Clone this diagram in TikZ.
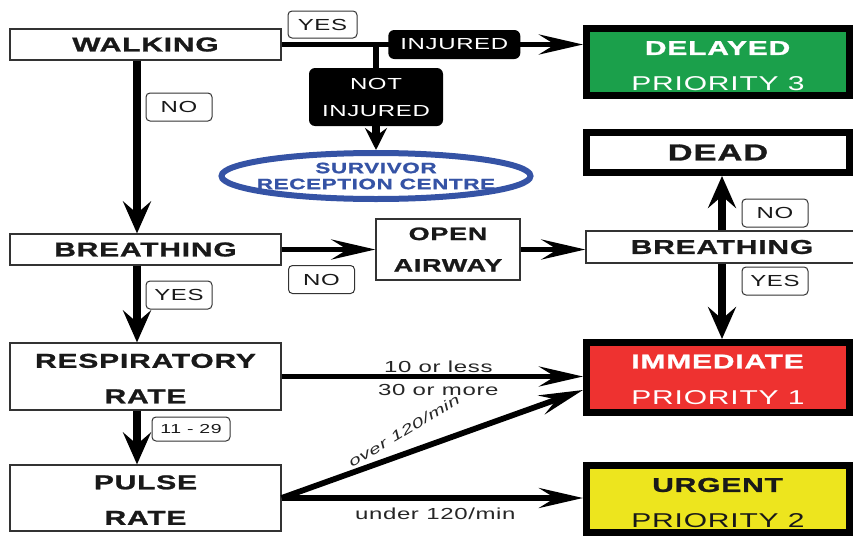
\documentclass[tikz,border=0pt]{standalone}
\usepackage{fontspec}
\setmainfont{Liberation Sans}[FakeStretch=1.5, LetterSpace=4, BoldFeatures={FakeBold=1.2}]
\usepackage{tikz}
\usetikzlibrary{shapes.geometric, arrows.meta}
\definecolor{delaygreen}{HTML}{1BA04B}
\definecolor{immred}{HTML}{EE3230}
\definecolor{urgyellow}{HTML}{EDE51E}
\definecolor{survblue}{HTML}{3553A5}
\newcommand{\lowertext}{\rule{0pt}{11pt}}
\tikzstyle{process} = [rectangle, minimum width=135.5pt, inner sep=0pt, align=center, draw=black!80, line width=0.6pt, fill=white, text=black!90, font=\bfseries\fontsize{10}{17.75}\selectfont]
\tikzstyle{priority} = [rectangle, minimum width=131.5pt, inner sep=0pt, align=center, draw=black, line width=3.5pt, font=\fontsize{10}{18}\selectfont]
\tikzstyle{answer} = [rectangle, rounded corners=2pt, minimum width=33pt, minimum height=14pt, inner sep=0pt, draw=black!80, line width=0.5pt, fill=white, text=black!90, font=\fontsize{8}{9}\selectfont]
\tikzstyle{blackbox} = [rectangle, rounded corners=3pt, inner sep=0pt, align=center, fill=black, text=white, font=\fontsize{8}{13.5}\selectfont]
\tikzstyle{centre} = [ellipse, minimum width=154.5pt, minimum height=23pt, inner xsep=-20pt, inner ysep=-6pt, align=center, draw=survblue, line width=3pt, text=survblue, font=\bfseries\fontsize{7.5}{8}\selectfont]
\tikzstyle{rate} = [text=black!85, font=\fontsize{8}{9}\selectfont]
\tikzstyle{arrow} = [line width=2.9pt, -{Stealth[length=22pt, width=10pt, inset=8pt]}]
\tikzstyle{varrow} = [line width=4.2pt, -{Stealth[length=16pt, width=14pt, inset=6pt]}]
\tikzstyle{shortarrow} = [line width=4pt, -{Stealth[length=11pt, width=11pt, inset=4pt]}]

\begin{document}
\begin{tikzpicture}[x=0.5pt, y=-0.5pt]

	\useasboundingbox (0,0) rectangle (853,536);

	\node (walk) [process, minimum height=15.5pt] at (145.5,44.5) {WALKING};
	\node (breath1) [process, minimum height=15.5pt] at (145.5,249.5) {BREATHING};
	\node (resp) [process, minimum height=33.5pt] at (145.5,376.5) {\rule{0pt}{9pt}RESPIRATORY\\RATE};
	\node (pulse) [process, minimum height=33pt] at (145.5,498) {\rule{0pt}{9pt}PULSE\\RATE};
	\node (airway) [process, minimum width=72pt, minimum height=30.5pt, font=\bfseries\fontsize{9}{15.75}\selectfont] at (448,249.5) {OPEN\\AIRWAY};
	\node (breath2) [process, minimum width=136pt, minimum height=16pt] at (722,247) {BREATHING};

	\node (delayed) [priority, minimum height=33.5pt, fill=delaygreen, text=white] at (718,62) {\lowertext\textbf{DELAYED}\\PRIORITY 3};
	\node (dead) [priority, minimum height=20pt, fill=white, text=black!90, font=\bfseries\fontsize{11.5}{12}\selectfont] at (718,152.5) {DEAD};
	\node (immediate) [priority, minimum height=35pt, fill=immred, text=white] at (718,377.5) {\rule{0pt}{9pt}\textbf{IMMEDIATE}\\PRIORITY 1};
	\node (urgent) [priority, minimum height=33.5pt, fill=urgyellow, text=black!90] at (718,499) {\lowertext\textbf{URGENT}\\PRIORITY 2};

	\node (notinj) [blackbox, minimum width=67pt, minimum height=29pt] at (376,97) {NOT\\INJURED};
	\node (centre) [centre] at (376,176) {SURVIVOR\\RECEPTION CENTRE};

	\coordinate (split) at (walk.east -| notinj.north);

	\draw [arrow] (walk.east) -- node[blackbox, pos=0.573, minimum width=66pt, minimum height=14.5pt] (injured) {INJURED} (walk.east -| delayed.west);
	\draw [line width=2.9pt] (split) -- (notinj.north);
	\draw [shortarrow] (notinj) -- (centre);
	\draw [varrow] ([xshift=-4.25pt]walk.south) -- ([xshift=-4.25pt]breath1.north);
	\draw [arrow] (breath1) -- (airway);
	\draw [arrow] (airway.east) -- (airway.east -| breath2.west);
	\draw [varrow] (breath2.north) -- (breath2.north |- dead.south);
	\draw [varrow] (breath2.south) -- (breath2.south |- immediate.north);
	\draw [varrow] ([xshift=-4.25pt]breath1.south) -- ([xshift=-4.25pt]resp.north);
	\draw [varrow] ([xshift=-4.25pt]resp.south) -- ([xshift=-4.25pt]pulse.north);
	\draw [arrow] (resp.east) -- node[rate, pos=0.52, above, yshift=-3pt] (less) {10 or less} node[rate, pos=0.52, below, yshift=1pt] (more) {30 or more} (resp.east -| immediate.west);
	\draw [arrow] (pulse.east) -- ([yshift=-6.25pt]immediate.west);
	\draw [arrow] (pulse.east) -- node[rate, pos=0.51, below] (under) {under 120/min} (pulse.east -| urgent.west);

	\node (over) [rate, rotate=31, font=\itshape\fontsize{7}{9}\selectfont] at (404,431) {over 120/min};

	\node (yes1) [answer, minimum width=34.5pt, minimum height=13.5pt] at (322.5,24.5) {YES};
	\node (no1) [answer] at (179,107) {NO};
	\node (no2) [answer] at (321.5,279.5) {NO};
	\node (yes2) [answer] at (179,295) {YES};
	\node (no3) [answer] at (775,213) {NO};
	\node (yes3) [answer] at (775,281) {YES};
	\node (range) [answer, minimum width=39pt, minimum height=12pt, font=\fontsize{6.5}{8}\selectfont] at (191,429) {11 - 29};

\end{tikzpicture}
\end{document}
